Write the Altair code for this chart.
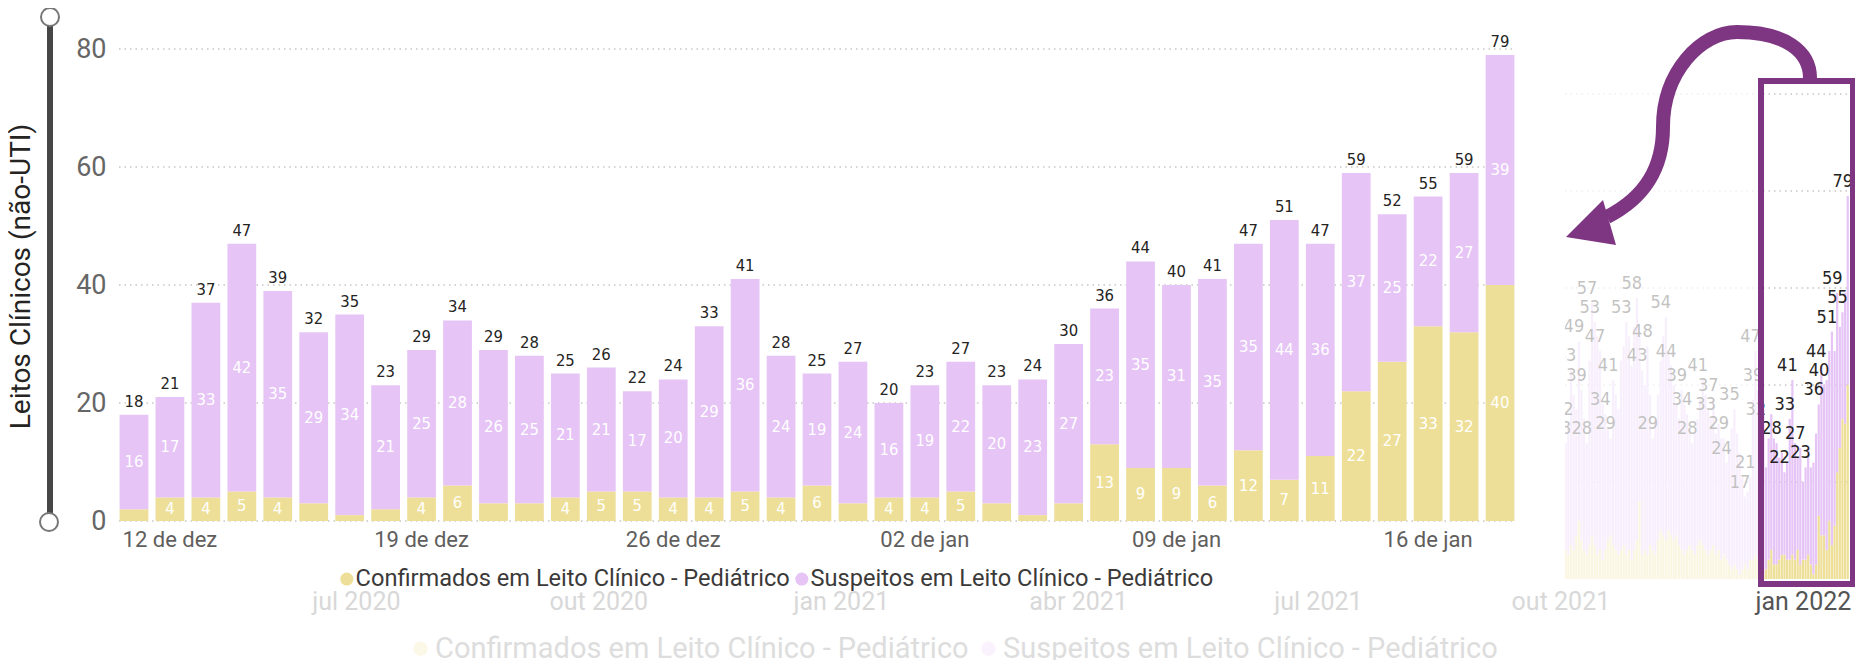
import altair as alt
import pandas as pd

# ---------------- textos e cores
MESES = ["jan", "fev", "mar", "abr", "mai", "jun", "jul", "ago", "set", "out", "nov", "dez"]
SERIES = ["Confirmados em Leito Clínico - Pediátrico", "Suspeitos em Leito Clínico - Pediátrico"]
CORES = ["#EEDF98", "#E6C4F6"]
ROXO = "#7E3682"
Y_TITULO = "Leitos Clínicos (não-UTI)"

# ---------------- gráfico principal: 11/dez/2021 a 18/jan/2022
datas_janela = [d.strftime("%Y-%m-%d") for d in pd.date_range("2021-12-11", "2022-01-18", freq="D")]
dias = [f"{int(d[8:]):02d} de {MESES[int(d[5:7]) - 1]}" for d in datas_janela]
rotulos_eixo_x = ["12 de dez", "19 de dez", "26 de dez", "02 de jan", "09 de jan", "16 de jan"]
valores_eixo_y = [0, 20, 40, 60, 80]
confirmados = [2, 4, 4, 5, 4, 3, 1, 2, 4, 6, 3, 3, 4, 5, 5, 4, 4, 5, 4, 6,
               3, 4, 4, 5, 3, 1, 3, 13, 9, 9, 6, 12, 7, 11, 22, 27, 33, 32, 40]
suspeitos = [16, 17, 33, 42, 35, 29, 34, 21, 25, 28, 26, 25, 21, 21, 17, 20, 29, 36, 24, 19,
             24, 16, 19, 22, 20, 23, 27, 23, 35, 31, 35, 35, 44, 36, 37, 25, 22, 27, 39]

# ---------------- visão geral (fundo): 01/out/2021 a 10/dez/2021 + janela
datas_visao = [d.strftime("%Y-%m-%d") for d in pd.date_range("2021-10-01", "2022-01-18", freq="D")]
total_visao_out_dez = [30, 28, 28, 32, 43, 38, 35, 49, 39, 33,
                       28, 45, 57, 53, 50, 47, 36, 34, 31, 29,
                       41, 38, 35, 45, 48, 53, 50, 44, 52, 58,
                       50, 43, 40, 48, 38, 29, 33, 38, 45, 50,
                       54, 47, 44, 40, 36, 33, 39, 36, 34, 31,
                       28, 30, 33, 37, 41, 38, 35, 33, 37, 30,
                       32, 29, 29, 24, 27, 31, 35, 30, 26, 21, 17]
confirmados_visao_out_dez = [6, 7, 6, 5, 7, 6, 9, 12, 8, 6,
                             5, 7, 9, 7, 5, 6, 4, 6, 8, 9,
                             7, 6, 5, 6, 7, 5, 6, 4, 6, 8,
                             16, 5, 6, 5, 7, 6, 5, 8, 10, 9,
                             8, 10, 9, 8, 9, 7, 6, 5, 6, 7,
                             6, 5, 7, 8, 7, 6, 5, 6, 7, 5,
                             6, 4, 5, 4, 3, 2, 3, 2, 1, 2, 3]
rotulos_visao = ["2021-10-03", "2021-10-04", "2021-10-05", "2021-10-08", "2021-10-09", "2021-10-11",
                 "2021-10-13", "2021-10-14", "2021-10-16", "2021-10-18", "2021-10-20", "2021-10-21",
                 "2021-10-26", "2021-10-30", "2021-11-01", "2021-11-03", "2021-11-05", "2021-11-10",
                 "2021-11-12", "2021-11-16", "2021-11-18", "2021-11-20", "2021-11-24", "2021-11-27",
                 "2021-11-28", "2021-12-02", "2021-12-03", "2021-12-06", "2021-12-10", "2021-12-12",
                 "2021-12-14", "2021-12-15", "2021-12-16", "2021-12-22", "2021-12-25", "2021-12-27",
                 "2021-12-28", "2021-12-31", "2022-01-02", "2022-01-07", "2022-01-08", "2022-01-09",
                 "2022-01-12", "2022-01-14", "2022-01-16", "2022-01-18"]
meses_eixo_visao = [(2020, 7), (2020, 10), (2021, 1), (2021, 4), (2021, 7), (2021, 10), (2022, 1)]
grade_visao = [20, 40, 60, 80, 100]

# ---------------- tabelas
linhas = []
for d, c, s in zip(dias, confirmados, suspeitos):
    linhas.append({"dia": d, "serie": SERIES[0], "valor": c, "ordem": 0, "meio": c / 2})
    linhas.append({"dia": d, "serie": SERIES[1], "valor": s, "ordem": 1, "meio": c + s / 2})
main_long = pd.DataFrame(linhas)
main_tot = pd.DataFrame({"dia": dias, "total": [c + s for c, s in zip(confirmados, suspeitos)]})

bg_conf = confirmados_visao_out_dez + confirmados
bg_susp = [t - c for t, c in zip(total_visao_out_dez, confirmados_visao_out_dez)] + suspeitos
bl = []
for d, c, s in zip(datas_visao, bg_conf, bg_susp):
    bl.append({"data": d, "serie": SERIES[0], "valor": c, "ordem": 0})
    bl.append({"data": d, "serie": SERIES[1], "valor": s, "ordem": 1})
bg_long = pd.DataFrame(bl)
bg_tot = pd.DataFrame({"data": datas_visao,
                       "total": [c + s for c, s in zip(bg_conf, bg_susp)],
                       "rotulo": [d in rotulos_visao for d in datas_visao]})
um = pd.DataFrame({"k": [0]})

FONT = "Roboto"
NARROW = "Liberation Sans Narrow, Arial Narrow, DejaVu Sans Condensed, sans-serif"
W, H = 1847, 652

# ---------------- escalas do gráfico principal
xm = alt.Scale(domain=dias, range=[108, 1510], paddingInner=0.2, paddingOuter=0.1)
ym = alt.Scale(domain=[0, 80], range=[513, 41], nice=False, zero=True)
x_axis = alt.Axis(orient="bottom", offset=513 - H, values=rotulos_eixo_x, labelAngle=0,
                  labelFont=FONT, labelFontSize=22, labelColor="#605E5C", labelPadding=8,
                  domain=False, ticks=False, grid=False, zindex=1, labelOverlap=False)
y_axis = alt.Axis(orient="left", offset=-108, values=valores_eixo_y, labelFont=FONT,
                  labelFontSize=27, labelColor="#666666", labelPadding=10, domain=False,
                  ticks=False, grid=False, zindex=1, titleX=-94.5, titleY=268, titleAngle=270,
                  titleAlign="center", titleBaseline="middle", titleFont=FONT,
                  titleFontSize=28, titleFontWeight="normal", titleColor="#252423")


def xm_enc():
    return alt.X("dia:N", scale=xm, title=None, axis=x_axis)


def ym_enc(field, stack=None):
    if stack:
        return alt.Y(f"{field}:Q", scale=ym, title=Y_TITULO, axis=y_axis, stack=stack)
    return alt.Y(f"{field}:Q", scale=ym, title=Y_TITULO, axis=y_axis)


main_grid = alt.Chart(pd.DataFrame({"v": valores_eixo_y})).mark_rule(
    color="#C8C6C4", strokeDash=[1.5, 4], strokeWidth=1.5
).encode(y=ym_enc("v"), x=alt.value(111), x2=alt.value(1506))

main_bars = alt.Chart(main_long).mark_bar().encode(
    x=xm_enc(),
    y=ym_enc("valor", stack="zero"),
    color=alt.Color("serie:N", scale=alt.Scale(domain=SERIES, range=CORES), title=None,
                    legend=alt.Legend(orient="none", legendX=327, legendY=559, direction="horizontal",
                                      symbolType="circle", symbolSize=170, symbolStrokeWidth=0,
                                      labelFont=FONT, labelFontSize=23.6, labelColor="#3B3A39",
                                      labelOffset={"expr": "-3"}, columnPadding={"expr": "-16"},
                                      padding=0, labelLimit=1000, zindex=1)),
    order=alt.Order("ordem:Q"),
)

main_seg = alt.Chart(main_long).transform_filter("datum.valor >= 4").mark_text(
    color="white", font=NARROW, fontSize=16.5, baseline="middle"
).encode(x=xm_enc(), y=ym_enc("meio"), text="valor:Q")

main_totals = alt.Chart(main_tot).mark_text(
    color="#252423", font=NARROW, fontSize=16.5, baseline="bottom", dy=-5
).encode(x=xm_enc(), y=ym_enc("total"), text="total:Q")

main = alt.layer(main_grid, main_bars, main_seg, main_totals)

# ---------------- visão geral (fundo)
xb = alt.Scale(type="utc",
               domain=[alt.DateTime(year=2020, month=4, date=1, utc=True),
                       alt.DateTime(year=2022, month=1, date=20, utc=True)],
               range=[103, 1850])
yb = alt.Scale(domain=[0, 100], range=[571, 86], nice=False, zero=True)
meses_js = "[" + ",".join(f"'{m}'" for m in MESES) + "]"
xb_axis = alt.Axis(orient="bottom", offset=571 - H,
                   values=[alt.DateTime(year=y, month=m, date=1, utc=True) for y, m in meses_eixo_visao],
                   labelExpr=meses_js + "[utcmonth(datum.value)] + ' ' + utcyear(datum.value)",
                   labelColor={"condition": {"test": "datum.value >= utc(2021, 11, 15)", "value": "#555555"},
                               "value": "#D8D8D8"},
                   labelFont=FONT, labelFontSize=25, labelPadding=10, labelAngle=0,
                   labelFlush=False, labelOverlap=False, domain=False, ticks=False, grid=False,
                   zindex=1)


def xb_enc():
    return alt.X("data:T", scale=xb, title=None, axis=xb_axis)


bg_grid = alt.Chart(pd.DataFrame({"v": grade_visao})).mark_rule(
    color="#C8C6C4", strokeDash=[1.5, 4], strokeWidth=1.5
).encode(y=alt.Y("v:Q", scale=yb, axis=None), x=alt.value(1557), x2=alt.value(W))

bg_bars = alt.Chart(bg_long).mark_bar(size=2.2).encode(
    x=xb_enc(),
    y=alt.Y("valor:Q", scale=yb, stack="zero", axis=None),
    color=alt.Color("serie:N", scale=alt.Scale(domain=SERIES, range=CORES), title=None,
                    legend=alt.Legend(orient="none", legendX=398, legendY=626, direction="horizontal",
                                      symbolType="circle", symbolSize=210, symbolOpacity=0.22,
                                      symbolStrokeWidth=0, labelFont=FONT, labelFontSize=29,
                                      labelColor="#DDDDDD", labelOffset=0, columnPadding=5,
                                      padding=0, labelLimit=1000, zindex=1)),
    order=alt.Order("ordem:Q"),
)

bg_labels = alt.Chart(bg_tot).transform_filter("datum.rotulo").mark_text(
    color="#252423", font=NARROW, fontSize=18, baseline="bottom", dy=-5, dx=-5
).encode(x=xb_enc(), y=alt.Y("total:Q", scale=yb, axis=None), text="total:Q")

bg = alt.layer(bg_grid, bg_bars, bg_labels)

# ---------------- máscaras e anotações
cover = alt.Chart(um).mark_rect(fill="white", opacity=1).encode(
    x=alt.value(1515), x2=alt.value(1557), y=alt.value(0), y2=alt.value(580))
overlay = alt.Chart(um).mark_rect(fill="white", opacity=0.72).encode(
    x=alt.value(1557), x2=alt.value(1750), y=alt.value(0), y2=alt.value(580))

slider_rule = alt.Chart(um).mark_rule(color="#464646", strokeWidth=6).encode(
    x=alt.value(42), y=alt.value(9), y2=alt.value(514))
slider_top = alt.Chart(um).mark_point(shape="circle", size=324, filled=True, fill="white",
                                      stroke="#777777", strokeWidth=2, opacity=1).encode(
    x=alt.value(42), y=alt.value(9))
slider_bot = alt.Chart(um).mark_point(shape="circle", size=324, filled=True, fill="white",
                                      stroke="#777777", strokeWidth=2, opacity=1).encode(
    x=alt.value(41), y=alt.value(514))

frame = alt.Chart(um).mark_rect(fillOpacity=0, stroke=ROXO, strokeWidth=6).encode(
    x=alt.value(1753), x2=alt.value(1845), y=alt.value(73), y2=alt.value(576))

ARROW_BODY = "M 244 -159 C 244 -185 220 -205 171 -205 C 135 -205 97 -165 97 -110 C 97 -70 80 -40 41 -20"
ARROW_HEAD = "M 0 0 L 37 -37 L 50 8 Z"
arrow_body = alt.Chart(um).mark_point(shape=ARROW_BODY, size=4, filled=False, stroke=ROXO,
                                      strokeWidth=14, opacity=1, strokeCap="butt").encode(
    x=alt.value(1558), y=alt.value(229))
arrow_head = alt.Chart(um).mark_point(shape=ARROW_HEAD, size=4, filled=True, fill=ROXO,
                                      strokeWidth=0, opacity=1).encode(
    x=alt.value(1558), y=alt.value(229))

chart = alt.layer(
    bg, cover, overlay, main, slider_rule, slider_top, slider_bot, frame, arrow_body, arrow_head
).resolve_scale(
    x="independent", y="independent", color="independent"
).properties(
    width=W, height=H, autosize=alt.AutoSizeParams(type="none"), padding=0, background="white"
).configure_view(strokeWidth=0)

chart.save("out.html", embed_options={"renderer": "svg", "actions": False})
